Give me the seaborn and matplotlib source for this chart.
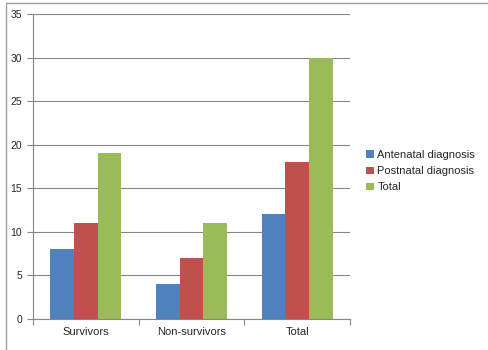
import matplotlib
matplotlib.use("Agg")
import matplotlib.pyplot as plt
from matplotlib.lines import Line2D
import seaborn as sns
import pandas as pd

categories = ["Survivors", "Non-survivors", "Total"]
series_names = ["Antenatal diagnosis", "Postnatal diagnosis", "Total"]
antenatal = [8, 4, 12]
postnatal = [11, 7, 18]
total = [19, 11, 30]
colors = ["#4F81BD", "#C0504D", "#9BBB59"]
yticks = [0, 5, 10, 15, 20, 25, 30, 35]

rows = []
for name, vals in zip(series_names, [antenatal, postnatal, total]):
    for c, v in zip(categories, vals):
        rows.append({"category": c, "series": name, "value": v})
df = pd.DataFrame(rows)

sns.set_style("white")
plt.rcParams["font.family"] = ["Liberation Sans", "DejaVu Sans"]

fig = plt.figure(figsize=(4.89, 3.5), dpi=100)
ax = fig.add_axes([33 / 489, 31 / 350, (350 - 33) / 489, (319 - 14) / 350])

sns.barplot(data=df, x="category", y="value", hue="series", order=categories,
            hue_order=series_names, palette=colors, width=0.67, gap=0,
            saturation=1, ax=ax, legend=True, edgecolor="none", linewidth=0)

gray = "#868686"
ax.set_ylim(0, 35)
ax.set_xlim(-0.5, 2.5)
ax.set_yticks(yticks)
ax.yaxis.grid(True, color=gray, linewidth=0.8)
ax.set_axisbelow(True)
ax.set_xlabel("")
ax.set_ylabel("")
for s in ["top", "right"]:
    ax.spines[s].set_visible(False)
for s in ["left", "bottom"]:
    ax.spines[s].set_color(gray)
    ax.spines[s].set_linewidth(0.8)
ax.tick_params(axis="y", length=4, color=gray, width=0.8, labelsize=7.5, pad=4, left=True)
ax.tick_params(axis="x", which="major", length=0, labelsize=8, pad=6)
ax.set_xticks([-0.5, 0.5, 1.5, 2.5], minor=True)
ax.tick_params(axis="x", which="minor", length=4, color=gray, width=0.8, bottom=True)

leg = ax.legend(loc="center left", bbox_to_anchor=(1.02, 0.484), frameon=False,
                fontsize=8, handlelength=0.7, handleheight=0.7, handletextpad=0.3,
                labelspacing=0.55)

fig.add_artist(Line2D([6.5 / 489, 1], [1 - 2.5 / 350, 1 - 2.5 / 350], color="#A0A0A0", linewidth=1))
fig.add_artist(Line2D([6.5 / 489, 6.5 / 489], [0, 1 - 2.5 / 350], color="#A0A0A0", linewidth=1))

fig.savefig("out.png", dpi=100)
